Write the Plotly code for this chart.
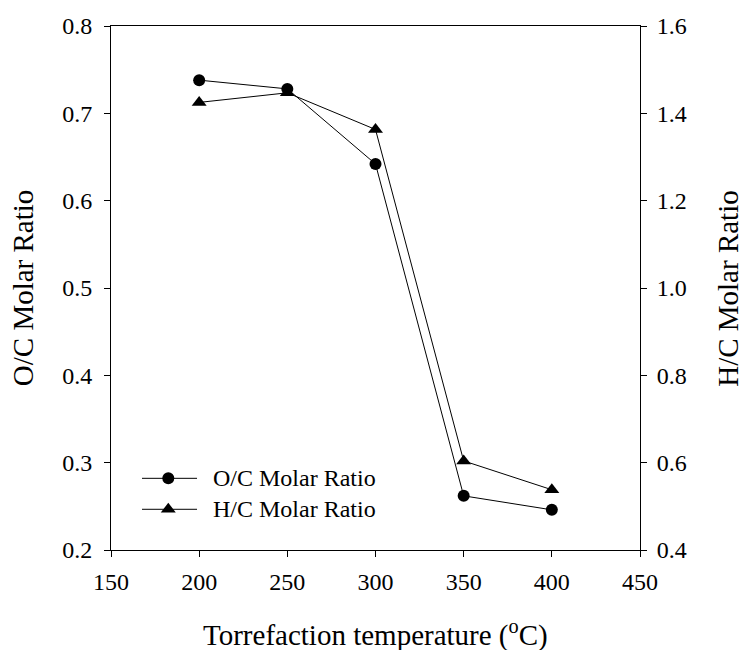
import plotly.graph_objects as go

# Torrefaction temperatures and molar ratios
temperature = [200, 250, 300, 350, 400]
oc_ratio = [0.738, 0.728, 0.642, 0.262, 0.246]
hc_ratio = [1.425, 1.447, 1.363, 0.604, 0.538]

x_ticks = [150, 200, 250, 300, 350, 400, 450]
left_ticks = [0.2, 0.3, 0.4, 0.5, 0.6, 0.7, 0.8]
right_ticks = [0.4, 0.6, 0.8, 1.0, 1.2, 1.4, 1.6]

series_names = ["O/C Molar Ratio", "H/C Molar Ratio"]
series_symbols = ["circle", "triangle-up"]
series_sizes = [12, 13]

FONT = "Liberation Serif, Times New Roman, serif"

fig = go.Figure()
fig.add_trace(go.Scatter(
    x=temperature, y=oc_ratio, name=series_names[0], mode="lines+markers",
    line=dict(color="black", width=1),
    marker=dict(symbol=series_symbols[0], size=series_sizes[0], color="black"),
    yaxis="y", showlegend=False,
))
fig.add_trace(go.Scatter(
    x=temperature, y=hc_ratio, name=series_names[1], mode="lines+markers",
    line=dict(color="black", width=1),
    marker=dict(symbol=series_symbols[1], size=series_sizes[1], color="black"),
    yaxis="y2", showlegend=False,
))

# Legend key drawn in the plot's unit frame (hidden 0..1 axes)
leg_x0, leg_x1, leg_xm, leg_text_x = 0.0586, 0.1626, 0.1083, 0.189
leg_rows = [0.1368, 0.0777]
shapes = []
annotations = []
for name, sym, size, ry in zip(series_names, series_symbols, series_sizes, leg_rows):
    shapes.append(dict(type="line", xref="x2", yref="y3", x0=leg_x0, x1=leg_x1,
                       y0=ry, y1=ry, line=dict(color="black", width=1)))
    fig.add_trace(go.Scatter(
        x=[leg_xm], y=[ry], mode="markers", xaxis="x2", yaxis="y3",
        marker=dict(symbol=sym, size=size, color="black"),
        showlegend=False, hoverinfo="skip",
    ))
    annotations.append(dict(text=name, xref="x2", yref="y3", x=leg_text_x, y=ry,
                            xanchor="left", yanchor="middle", showarrow=False,
                            font=dict(family=FONT, size=24, color="black")))

axis_common = dict(
    showline=True, linecolor="black", linewidth=1,
    ticks="outside", ticklen=6, tickwidth=1, tickcolor="black",
    showgrid=False, zeroline=False,
    tickfont=dict(family=FONT, size=24, color="black"),
)

annotations += [
    dict(text="O/C Molar Ratio", xref="paper", yref="paper", x=-0.166, y=0.5,
         textangle=-90, showarrow=False, xanchor="center", yanchor="middle",
         font=dict(family=FONT, size=29, color="black")),
    dict(text="H/C Molar Ratio", xref="paper", yref="paper", x=1.166, y=0.5,
         textangle=-90, showarrow=False, xanchor="center", yanchor="middle",
         font=dict(family=FONT, size=29, color="black")),
    dict(text="Torrefaction temperature (<sup>o</sup>C)", xref="paper", yref="paper",
         x=0.5, y=-0.16, showarrow=False, xanchor="center", yanchor="middle",
         font=dict(family=FONT, size=29, color="black")),
]

fig.update_layout(
    width=743, height=650,
    margin=dict(l=111, r=103, t=26, b=100),
    paper_bgcolor="white", plot_bgcolor="white",
    font=dict(family=FONT, color="black"),
    showlegend=False,
    xaxis=dict(range=[150, 450], tickvals=x_ticks, mirror=True,
               ticklabelstandoff=4, **axis_common),
    yaxis=dict(range=[0.2, 0.8], tickvals=left_ticks, tickformat=".1f",
               ticklabelstandoff=7, **axis_common),
    yaxis2=dict(range=[0.4, 1.6], tickvals=right_ticks, tickformat=".1f",
                overlaying="y", side="right", ticklabelstandoff=5, **axis_common),
    xaxis2=dict(range=[0, 1], overlaying="x", visible=False, fixedrange=True),
    yaxis3=dict(range=[0, 1], overlaying="y", visible=False, fixedrange=True),
    shapes=shapes,
    annotations=annotations,
)

fig.write_html("out.html")
